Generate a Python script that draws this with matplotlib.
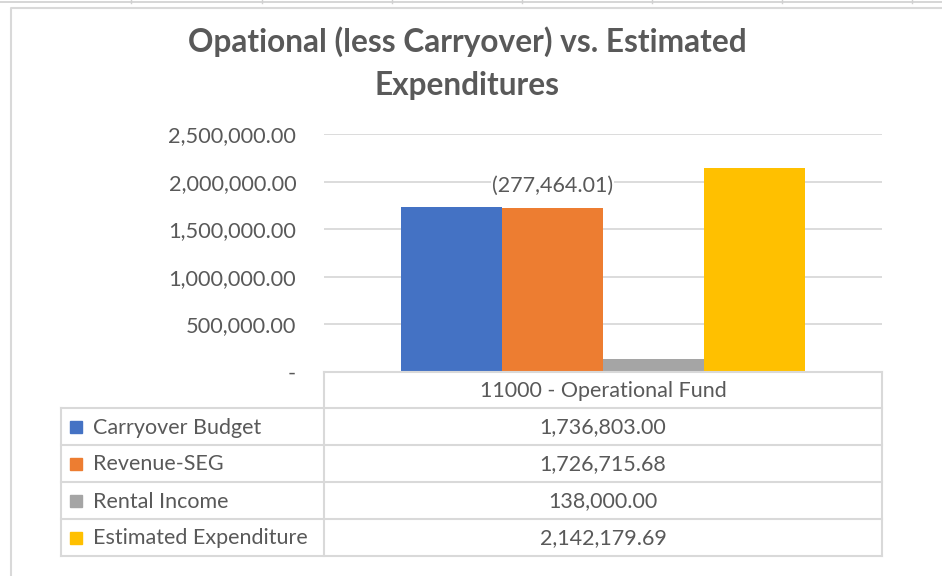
import matplotlib.pyplot as plt
from matplotlib.patches import Rectangle

series = ["Carryover Budget", "Revenue-SEG", "Rental Income", "Estimated Expenditure"]
values = [1736803.00, 1726715.68, 138000.00, 2142179.69]
colors = ["#4472C4", "#ED7D31", "#A5A5A5", "#FFC000"]
category = "11000 - Operational Fund"
yticks = [0, 500000, 1000000, 1500000, 2000000, 2500000]
ytick_labels = ["-", "500,000.00", "1,000,000.00", "1,500,000.00", "2,000,000.00", "2,500,000.00"]
note_label = "(277,464.01)"
title = "Opational (less Carryover) vs. Estimated\nExpenditures"

W, H = 942, 576
TXT = "#595959"
LINE = "#D9D9D9"
FS = 15.5
plt.rcParams["font.family"] = ["Lato", "DejaVu Sans"]

fig = plt.figure(figsize=(W / 100, H / 100), dpi=100)


def fx(x):
    return x / W


def fy(y):
    return 1 - y / H


# spreadsheet grid behind the chart object
fig.add_artist(plt.Line2D([0, 1], [fy(2), fy(2)], color="#D0D0D0", lw=1.2))
for gx in [131, 262, 392, 522, 652, 782, 912]:
    fig.add_artist(plt.Line2D([fx(gx), fx(gx)], [fy(0), fy(3)], color="#D0D0D0", lw=1))
# chart border
fig.add_artist(plt.Line2D([fx(11), fx(11), 1], [0, fy(8), fy(8)], color=LINE, lw=1.5))

fig.text(fx(467), fy(63), title, ha="center", va="center", fontsize=22.8,
         fontweight="bold", color=TXT, linespacing=1.58)

# plot area
ax = fig.add_axes([fx(324), fy(372), fx(882) - fx(324), fy(134) - fy(372)])
ax.set_xlim(0, 1)
ax.set_ylim(0, 2500000)
bw = 101 / 558
x0 = 0.5 - 2 * bw
for i, (v, c) in enumerate(zip(values, colors)):
    ax.bar(x0 + (i + 0.5) * bw, v, width=bw, color=c, zorder=3)
ax.text(x0 + 1.5 * bw, 1960000, note_label, ha="center", va="center", fontsize=FS,
        color=TXT, zorder=4, bbox=dict(boxstyle="square,pad=0.05", fc="white", ec="none"))
ax.set_yticks(yticks)
ax.set_yticklabels(ytick_labels)
ax.tick_params(axis="y", length=0, pad=20, labelsize=15.7, labelcolor=TXT)
ax.set_xticks([])
ax.grid(axis="y", color=LINE, lw=1.3, zorder=0)
for s in ax.spines.values():
    s.set_visible(False)

# data table
rows = [372, 408, 445, 482, 519, 556]
left, mid, right = 61, 324, 882
tl = dict(color=LINE, lw=1.5)
fig.add_artist(plt.Line2D([fx(mid), fx(right)], [fy(rows[0]), fy(rows[0])], **tl))
for r in rows[1:]:
    fig.add_artist(plt.Line2D([fx(left), fx(right)], [fy(r), fy(r)], **tl))
fig.add_artist(plt.Line2D([fx(mid), fx(mid)], [fy(rows[0]), fy(rows[-1])], **tl))
fig.add_artist(plt.Line2D([fx(right), fx(right)], [fy(rows[0]), fy(rows[-1])], **tl))
fig.add_artist(plt.Line2D([fx(left), fx(left)], [fy(rows[1]), fy(rows[-1])], **tl))

fig.text(fx((mid + right) / 2), fy((rows[0] + rows[1]) / 2 + 1), category,
         ha="center", va="center", fontsize=FS, color=TXT)
for i, (name, v, c) in enumerate(zip(series, values, colors)):
    yc = (rows[i + 1] + rows[i + 2]) / 2
    fig.add_artist(Rectangle((fx(70), fy(yc + 6)), fx(12), 12 / H, color=c,
                             transform=fig.transFigure))
    fig.text(fx(93), fy(yc + 1), name, ha="left", va="center", fontsize=FS, color=TXT)
    fig.text(fx((mid + right) / 2), fy(yc + 1), f"{v:,.2f}", ha="center", va="center",
             fontsize=FS, color=TXT)

fig.savefig("out.png", dpi=100)
